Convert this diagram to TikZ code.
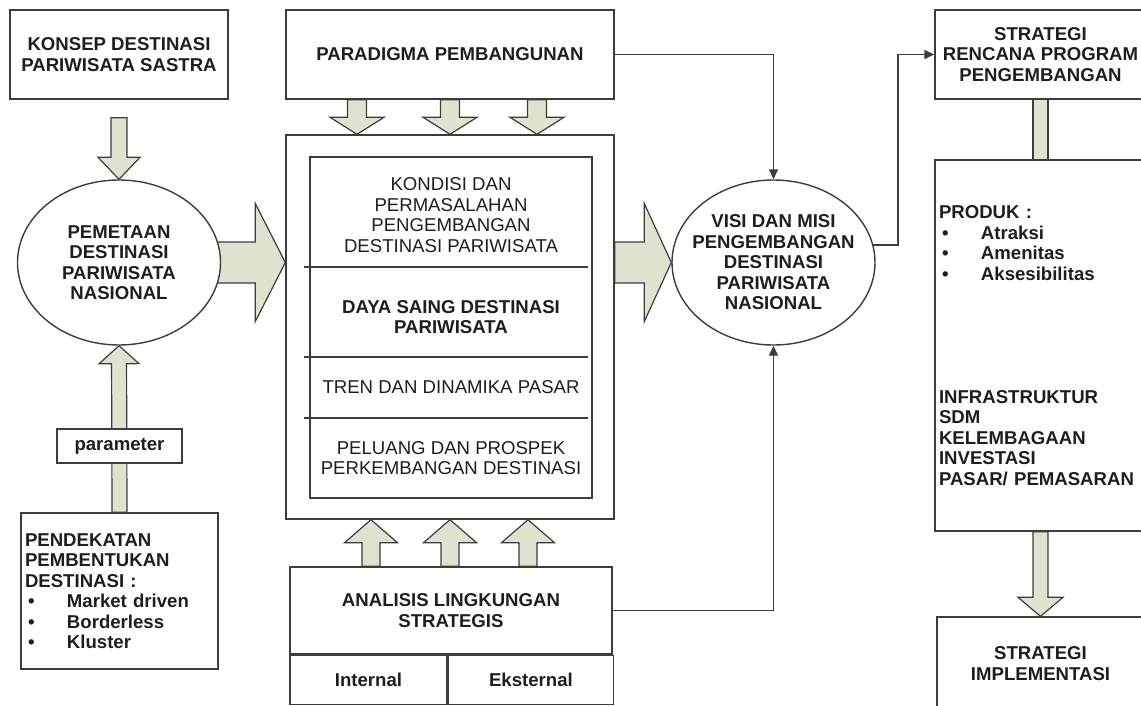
\documentclass[tikz,border=0pt]{standalone}
\usepackage{fontspec}
\setmainfont{Liberation Sans}
\usetikzlibrary{arrows.meta,positioning,shapes.geometric,calc,backgrounds}
\definecolor{sage}{RGB}{221,227,207}
\definecolor{edge}{RGB}{60,60,60}
\definecolor{ink}{RGB}{30,30,30}
\newcommand{\dsize}{\fontsize{18.6}{20.5}\selectfont}
\newcommand{\li}[1]{\makebox[42pt][l]{\hspace{3pt}\textbullet}#1}
\tikzset{
  >={Triangle[length=10pt,width=9pt]},
  box/.style={draw=edge,fill=white,line width=1.4pt,align=center,font=\dsize\bfseries,text=ink,inner sep=2pt},
  listbox/.style={box,align=left,inner xsep=3pt},
  oval/.style={ellipse,draw=edge,fill=white,line width=1.4pt,align=center,font=\dsize\bfseries,text=ink,
    inner xsep=-25pt,inner ysep=0pt,minimum width=203pt,minimum height=165pt},
  sect/.style={align=center,font=\dsize,text=ink},
  link/.style={->,draw=edge,line width=1.4pt},
  fat/.style={fill=sage,draw=edge,line width=1.2pt,line join=miter},
}
% block arrow: start, tip, shaft half width, head half width, head length
\newcommand{\fatarrow}[5]{%
  \coordinate (fa) at ($(#2)!#5!(#1)$);
  \draw[fat] ($(#1)!#3!90:(#2)$) -- ($(fa)!#3!90:(#2)$) -- ($(fa)!#4!90:(#2)$) -- (#2)
    -- ($(fa)!#4!-90:(#2)$) -- ($(fa)!#3!-90:(#2)$) -- ($(#1)!#3!-90:(#2)$) -- cycle;
}

\begin{document}
\begin{tikzpicture}[x=1pt,y=-1pt]
  \useasboundingbox (0,0) rectangle (1141,706);
  \clip (0,0) rectangle (1141,706);
  % left column
  \node[box,minimum width=218pt,minimum height=89pt] (konsep) at (119,54.5) {KONSEP DESTINASI\\PARIWISATA SASTRA};
  \node[oval] (pemetaan) at (119,262.5) {PEMETAAN\\DESTINASI\\PARIWISATA\\NASIONAL};
  \node[listbox,minimum width=197pt,minimum height=156pt,text width=189pt] (pendekatan) at (119.5,591)
    {PENDEKATAN\\PEMBENTUKAN\\DESTINASI :\\\li{Market driven}\\\li{Borderless}\\\li{Kluster}};
  % middle column
  \node[box,minimum width=328pt,minimum height=89pt] (paradigma) at (450,54.5) {PARADIGMA PEMBANGUNAN};
  \node[box,minimum width=328pt,minimum height=384pt] (kajian) at (450,327) {};
  \node[box,minimum width=282pt,minimum height=341pt] (isi) at (451,327.5) {};
  \node[sect] (kondisi) at (451,215) {KONDISI DAN\\PERMASALAHAN\\PENGEMBANGAN\\DESTINASI PARIWISATA};
  \node[sect,font=\dsize\bfseries] (dayasaing) at (451,317) {DAYA SAING DESTINASI\\PARIWISATA};
  \node[sect] (tren) at (451,387) {TREN DAN DINAMIKA PASAR};
  \node[sect] (peluang) at (451,458) {PELUANG DAN PROSPEK\\PERKEMBANGAN DESTINASI};
  \foreach \y in {267,357,418}
    \draw[draw=edge,line width=1.4pt] ([xshift=-5pt]isi.west |- 0,\y) -- ([xshift=-5pt]isi.east |- 0,\y);
  \node[box,minimum width=322pt,minimum height=87pt] (analisis) at (451,610.5) {ANALISIS LINGKUNGAN\\STRATEGIS};
  \node[box,minimum width=157pt,minimum height=49pt,anchor=north west] (internal) at (analisis.south west) {Internal};
  \node[box,minimum width=165pt,minimum height=49pt,anchor=north west] (eksternal) at (internal.north east) {Eksternal};
  \node[oval] (visi) at (773.5,262.5) {VISI DAN MISI\\PENGEMBANGAN\\DESTINASI\\PARIWISATA\\NASIONAL};
  % right column
  \node[box,minimum width=211pt,minimum height=89pt] (strategi) at (1040.5,54.5) {STRATEGI\\RENCANA PROGRAM\\PENGEMBANGAN};
  \node[listbox,minimum width=211pt,minimum height=371pt,text width=203pt,inner xsep=2pt] (produk) at (1040.5,345.5)
    {PRODUK :\\\li{Atraksi}\\\li{Amenitas}\\\li{Aksesibilitas}\\[102.5pt]INFRASTRUKTUR\\SDM\\KELEMBAGAAN\\INVESTASI\\PASAR/ PEMASARAN};
  \node[box,minimum width=207pt,minimum height=93pt] (implementasi) at (1040.5,663.5) {STRATEGI\\IMPLEMENTASI};

  % block arrows
  \begin{scope}[on background layer]
    \coordinate (k1) at ([yshift=-18pt]konsep.south);
    \fatarrow{k1}{pemetaan.north}{8pt}{21pt}{22pt}
    \fatarrow{pendekatan.north}{pemetaan.south}{7.5pt}{20pt}{18pt}
    \coordinate (t1) at (kajian.west |- pemetaan.center);
    \fatarrow{pemetaan.center}{t1}{20.5pt}{59pt}{30pt}
    \coordinate (s2) at (kajian.east |- visi.west);
    \fatarrow{s2}{visi.west}{20.5pt}{59pt}{27pt}
    \foreach \dx in {-93,0,87} {
      \coordinate (s) at ([xshift=\dx pt]paradigma.south);
      \coordinate (t) at ([xshift=\dx pt]kajian.north);
      \fatarrow{s}{t}{9.5pt}{27pt}{17pt}
    }
    \foreach \dx in {-80,-1,77} {
      \coordinate (s) at ([xshift=\dx pt]analisis.north);
      \coordinate (t) at (s |- kajian.south);
      \fatarrow{s}{t}{9pt}{26.5pt}{23pt}
    }
    \draw[fat] ([xshift=-7.5pt]strategi.south) rectangle ([xshift=7.5pt]produk.north);
    \fatarrow{produk.south}{implementasi.north}{7.5pt}{22.5pt}{19pt}
  \end{scope}
  \node[box,font=\dsize\bfseries,minimum width=125pt,minimum height=34pt] (param) at (119.5,446) {parameter};

  % connectors
  \draw[link] (paradigma.east) -| (visi.north);
  \draw[link] (analisis.east) -| (visi.south);
  \coordinate (bend) at (898,0);
  \draw[link] (visi.10) -| (bend |- strategi.west) -- (strategi.west);
\end{tikzpicture}
\end{document}
